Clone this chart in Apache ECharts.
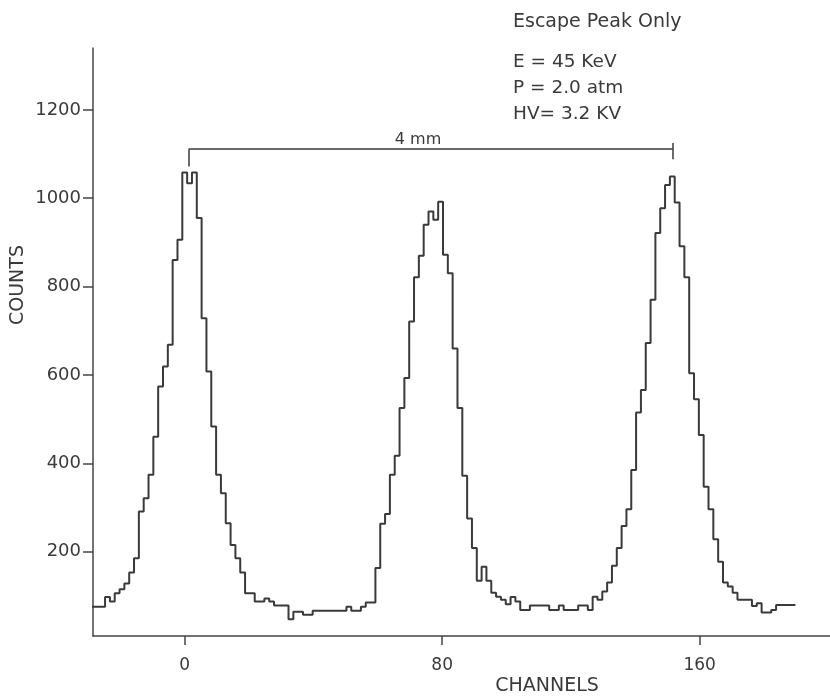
<!DOCTYPE html>
<html><head><meta charset="utf-8">
<script src="https://cdn.jsdelivr.net/npm/echarts@6/dist/echarts.min.js"></script>
<style>html,body{margin:0;padding:0;background:#fff}#chart{width:830px;height:698px}</style>
</head><body><div id="chart"></div>
<script>
// ---- data ----
const binStart = -28.5;   // centre of the first channel bin
const binWidth = 1.5;     // channels per histogram step
const counts = [
  75, 75, 75, 97, 87, 106, 115, 128, 153, 185,
  291, 321, 374, 460, 574, 619, 668, 860, 906, 1058,
  1034, 1058, 955, 728, 608, 483, 374, 332, 264, 215,
  185, 153, 106, 106, 87, 87, 94, 87, 78, 78,
  78, 47, 64, 64, 57, 57, 66, 66, 66, 66,
  66, 66, 66, 75, 66, 66, 75, 85, 85, 163,
  263, 285, 374, 417, 525, 593, 721, 821, 870, 940,
  970, 951, 992, 872, 830, 660, 525, 372, 275, 208,
  134, 166, 134, 107, 98, 91, 81, 97, 87, 68,
  68, 78, 78, 78, 78, 68, 68, 78, 68, 68,
  68, 78, 78, 68, 98, 91, 110, 130, 168, 208,
  258, 296, 385, 515, 566, 672, 770, 921, 977, 1030,
  1049, 990, 891, 821, 604, 545, 464, 347, 296, 228,
  177, 130, 121, 107, 91, 91, 91, 77, 83, 62,
  62, 68, 79, 79, 79, 79
];
const xTicks = [0, 80, 160];
const yTicks = [200, 400, 600, 800, 1000, 1200];
const xRange = [-28.5, 200.5];
const yRange = [9, 1340];
const bracketX = [1.2, 151.6];
const bracketLevel = 1111;
const bracketLeftEnd = 1072;
const bracketRightEnds = [1125, 1088];
const bracketLabel = '4 mm';
const titleLine = 'Escape Peak Only';
const infoLines = ['E = 45 KeV', 'P = 2.0 atm', 'HV= 3.2 KV'];
const xName = 'CHANNELS';
const yName = 'COUNTS';

// ---- build step data (left edge of every bin + closing edge) ----
const stepData = counts.map((c, i) => [binStart + i * binWidth - binWidth / 2, c]);
stepData.push([binStart + counts.length * binWidth - binWidth / 2, counts[counts.length - 1]]);

const ink = '#3a3a3a';
const font = '"DejaVu Sans", sans-serif';
const chart = echarts.init(document.getElementById('chart'), null, {renderer: 'canvas'});

const graphics = [
  {type: 'text', x: 513, y: 22, style: {text: titleLine, font: '19px ' + font, fill: ink, verticalAlign: 'middle'}},
  {type: 'text', x: 547, y: 686, style: {text: xName, font: '19px ' + font, fill: ink, align: 'center', verticalAlign: 'middle'}},
  {type: 'text', x: 18, y: 285, rotation: Math.PI / 2, style: {text: yName, font: '19px ' + font, fill: ink, align: 'center', verticalAlign: 'middle'}},
  {type: 'text', x: 418, y: 140, style: {text: bracketLabel, font: '16px ' + font, fill: ink, align: 'center', verticalAlign: 'middle'}}
];
infoLines.forEach((t, i) => graphics.push({
  type: 'text', x: 513, y: 62 + i * 26,
  style: {text: t, font: '18.5px ' + font, fill: ink, verticalAlign: 'middle'}
}));

const plain = v => String(v);

chart.setOption({
  backgroundColor: '#ffffff',
  animation: false,
  grid: {left: 93, right: 0, top: 48, bottom: 62, containLabel: false, outerBoundsMode: 'none'},
  xAxis: {
    type: 'value', min: xRange[0], max: xRange[1],
    axisLine: {onZero: false, lineStyle: {color: '#444', width: 1.5}},
    axisTick: {show: true, length: 9, customValues: xTicks, lineStyle: {color: '#444', width: 1.5}},
    axisLabel: {customValues: xTicks, formatter: plain, color: ink, fontSize: 17, fontFamily: font, margin: 21},
    splitLine: {show: false}
  },
  yAxis: {
    type: 'value', min: yRange[0], max: yRange[1],
    axisLine: {show: true, onZero: false, lineStyle: {color: '#444', width: 1.5}},
    axisTick: {show: true, length: 10, customValues: yTicks, lineStyle: {color: '#444', width: 1.5}},
    axisLabel: {customValues: yTicks, formatter: plain, color: ink, fontSize: 18, fontFamily: font, margin: 12},
    splitLine: {show: false}
  },
  series: [{
    type: 'line', step: 'end', data: stepData, symbol: 'none',
    lineStyle: {color: ink, width: 2},
    markLine: {
      silent: true, symbol: ['none', 'none'],
      lineStyle: {color: ink, width: 1.5, type: 'solid'},
      label: {show: false},
      data: [
        [{coord: [bracketX[0], bracketLevel]}, {coord: [bracketX[1], bracketLevel]}],
        [{coord: [bracketX[0], bracketLeftEnd]}, {coord: [bracketX[0], bracketLevel]}],
        [{coord: [bracketX[1], bracketRightEnds[0]]}, {coord: [bracketX[1], bracketRightEnds[1]]}]
      ]
    }
  }],
  graphic: graphics
});
</script></body></html>
